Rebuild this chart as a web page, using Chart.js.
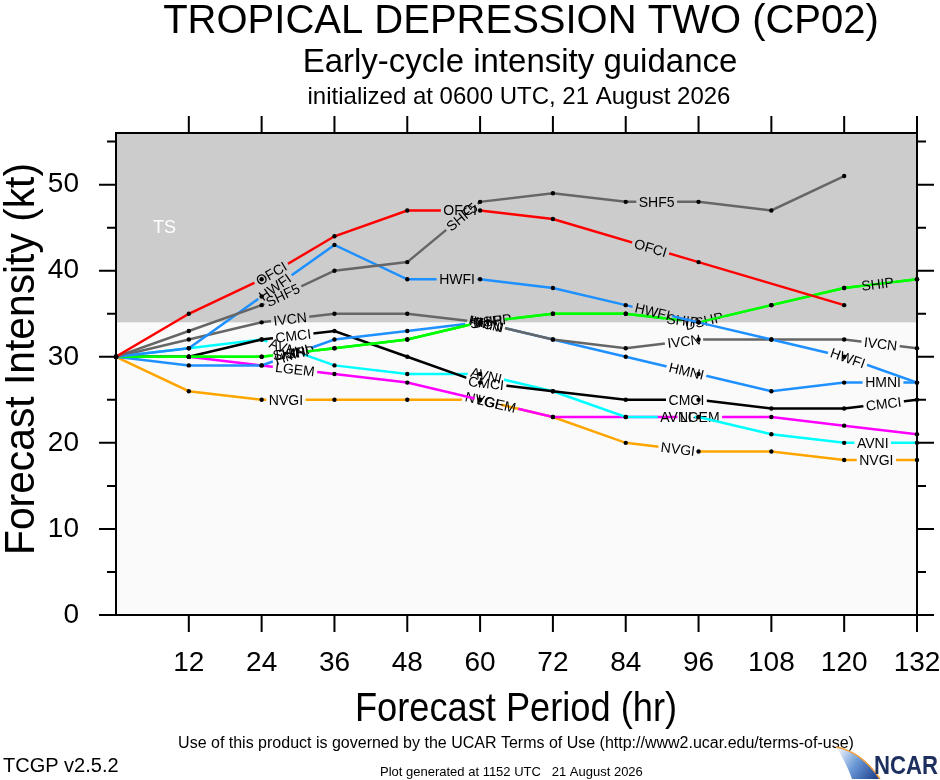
<!DOCTYPE html>
<html>
<head>
<meta charset="utf-8">
<title>CP02 early-cycle intensity guidance</title>
<script src="https://cdn.jsdelivr.net/npm/chart.js@4.4.1/dist/chart.umd.min.js"></script>
<style>
  html, body { margin: 0; padding: 0; background: #fff; }
  canvas { display: block; }
</style>
</head>
<body>
<canvas id="chart" width="940" height="780"></canvas>
<script>
// forecast hours and intensities (kt), null = no forecast at that hour
const hours = [0, 12, 24, 36, 48, 60, 72, 84, 96, 108, 120, 132];
const xTicks = [12, 24, 36, 48, 60, 72, 84, 96, 108, 120, 132];
const yTicks = [0, 10, 20, 30, 40, 50];

const ofcl = [30, 35, 39, 44, 47, 47, 46, null, 41, null, 36, null];
const hwfi = [30, 31, 37, 43, 39, 39, 38, 36, 34, 32, 30, 27];
const hmni = [30, 29, 29, 32, 33, 34, 32, 30, 28, 26, 27, 27];
const shf5 = [30, 33, 36, 40, 41, 48, 49, 48, 48, 47, 51, null];
const ivcn = [30, 32, 34, 35, 35, 34, 32, 31, 32, 32, 32, 31];
const ship = [30, 30, 30, 31, 32, 34, 35, 35, 34, 36, 38, 39];
const dshp = [30, 30, 30, 31, 32, 34, 35, 35, 34, 36, 38, 39];
const cmci = [30, 30, 32, 33, 30, 27, 26, 25, 25, 24, 24, 25];
const avni = [30, 31, 32, 29, 28, 28, 26, 23, 23, 21, 20, 20];
const lgem = [30, 30, 29, 28, 27, 25, 23, 23, 23, 23, 22, 21];
const nvgi = [30, 26, 25, 25, 25, 25, 23, 20, 19, 19, 18, 18];

const tsThreshold = 34;

// name, values, colour, hours where the inline label sits
const models = [
  { name: "OFCI", values: ofcl, color: "#ff0000", labels: [25.6, 56.7, 88.1] },
  { name: "SHF5", values: shf5, color: "#666666", labels: [27.5, 57, 89.1] },
  { name: "HWFI", values: hwfi, color: "#1e90ff", labels: [26.2, 56.2, 88.4, 120.6] },
  { name: "IVCN", values: ivcn, color: "#666666", labels: [28.7, 61, 93.6, 126] },
  { name: "SHIP", values: ship, color: "#00ff00", labels: [28.5, 61, 93.4, 125.5] },
  { name: "DSHP", values: dshp, color: "#00ff00", labels: [29.5, 62, 96.9] },
  { name: "HMNI", values: hmni, color: "#1e90ff", labels: [29, 61, 94, 126.4] },
  { name: "CMCI", values: cmci, color: "#000000", labels: [29.2, 61, 94, 126.5] },
  { name: "AVNI", values: avni, color: "#00ffff", labels: [27.8, 61, 92.3, 124.7] },
  { name: "LGEM", values: lgem, color: "#ff00ff", labels: [29.5, 62.7, 96.2] },
  { name: "NVGI", values: nvgi, color: "#ffa500", labels: [28, 60.3, 92.6, 125.3] },
];

const FONT = "'Liberation Sans', Arial, Helvetica, sans-serif";
const LABEL_FONT = "14px " + FONT;

function toPoints(values) {
  return hours.map((h, i) => ({ x: h, y: values[i] }));
}

const lineSets = models.map((m) => ({
  label: m.name,
  data: toPoints(m.values),
  borderColor: m.color,
  borderWidth: 2.5,
  pointRadius: 0,
  spanGaps: true,
  tension: 0,
  order: 1,
  inlineLabels: m.labels,
}));

const markerSets = models.map((m) => ({
  label: m.name + " pts",
  data: toPoints(m.values),
  showLine: false,
  pointRadius: 2.2,
  pointBackgroundColor: "#000",
  pointBorderWidth: 0,
  clip: false,
  order: 0,
}));

// where along a series (in pixels) the label for hour h goes, and the slope there
function labelPlace(chart, values, h) {
  const xs = chart.scales.x, ys = chart.scales.y;
  const idx = hours.map((v, i) => i).filter((i) => values[i] !== null);
  for (let k = 0; k < idx.length - 1; k++) {
    const a = idx[k], b = idx[k + 1];
    if (h >= hours[a] && h <= hours[b]) {
      const x0 = xs.getPixelForValue(hours[a]), y0 = ys.getPixelForValue(values[a]);
      const x1 = xs.getPixelForValue(hours[b]), y1 = ys.getPixelForValue(values[b]);
      const t = (h - hours[a]) / (hours[b] - hours[a]);
      return { x: x0 + (x1 - x0) * t, y: y0 + (y1 - y0) * t, angle: Math.atan2(y1 - y0, x1 - x0) };
    }
  }
  return null;
}

function labelBoxes(chart, ds) {
  const ctx = chart.ctx;
  ctx.font = LABEL_FONT;
  const w = ctx.measureText(ds.label).width;
  const values = ds.data.map((p) => p.y);
  return ds.inlineLabels
    .map((h) => labelPlace(chart, values, h))
    .filter(Boolean)
    .map((p) => ({ ...p, w: w + 5, h: 14 }));
}

const inlineLabels = {
  id: "inlineLabels",
  beforeDatasetDraw(chart, args) {
    const ds = chart.data.datasets[args.index];
    if (!ds.inlineLabels) return;
    const ctx = chart.ctx;
    ctx.save();
    ctx.beginPath();
    ctx.rect(0, 0, chart.width, chart.height);
    labelBoxes(chart, ds).forEach((b) => {
      const c = Math.cos(b.angle), s = Math.sin(b.angle);
      const pts = [[-b.w / 2, -b.h / 2], [b.w / 2, -b.h / 2], [b.w / 2, b.h / 2], [-b.w / 2, b.h / 2]];
      pts.forEach(([u, v], i) => {
        const px = b.x + u * c - v * s, py = b.y + u * s + v * c;
        if (i === 0) ctx.moveTo(px, py); else ctx.lineTo(px, py);
      });
      ctx.closePath();
    });
    ctx.clip("evenodd");
  },
  afterDatasetDraw(chart, args) {
    const ds = chart.data.datasets[args.index];
    if (!ds.inlineLabels) return;
    const ctx = chart.ctx;
    ctx.restore();
    ctx.save();
    ctx.font = LABEL_FONT;
    ctx.fillStyle = "#000";
    ctx.textAlign = "center";
    ctx.textBaseline = "middle";
    labelBoxes(chart, ds).forEach((b) => {
      ctx.save();
      ctx.translate(b.x, b.y);
      ctx.rotate(b.angle);
      ctx.fillText(ds.label, 0, 1);
      ctx.restore();
    });
    ctx.restore();
  },
};

const plotFrame = {
  id: "plotFrame",
  beforeDatasetsDraw(chart) {
    const { ctx, chartArea: a, scales } = chart;
    const yTs = scales.y.getPixelForValue(tsThreshold);
    ctx.save();
    ctx.fillStyle = "#fafafa";
    ctx.fillRect(a.left, yTs, a.right - a.left, a.bottom - yTs);
    ctx.fillStyle = "#cccccc";
    ctx.fillRect(a.left, a.top, a.right - a.left, yTs - a.top);
    ctx.fillStyle = "#fff";
    ctx.font = "18px " + FONT;
    ctx.textAlign = "center";
    ctx.textBaseline = "middle";
    ctx.fillText("TS", scales.x.getPixelForValue(8), scales.y.getPixelForValue(45));
    ctx.restore();
  },
  afterDraw(chart) {
    const { ctx, chartArea: a, scales } = chart;
    ctx.save();
    ctx.strokeStyle = "#000";
    ctx.lineWidth = 2;
    ctx.beginPath();
    // y ticks both sides, every 5 kt
    for (let v = 0; v <= 55; v += 5) {
      const y = scales.y.getPixelForValue(v);
      const len = v % 10 === 0 ? 17 : 9;
      ctx.moveTo(a.left - len, y); ctx.lineTo(a.left, y);
      ctx.moveTo(a.right, y); ctx.lineTo(a.right + len, y);
    }
    xTicks.forEach((h) => {
      const x = scales.x.getPixelForValue(h);
      ctx.moveTo(x, a.bottom); ctx.lineTo(x, a.bottom + 17);
      ctx.moveTo(x, a.top); ctx.lineTo(x, a.top - 17);
    });
    ctx.stroke();
    ctx.strokeRect(a.left, a.top, a.right - a.left, a.bottom - a.top);

    // titles and footer
    ctx.fillStyle = "#000";
    ctx.textAlign = "center";
    ctx.textBaseline = "alphabetic";
    ctx.font = "40px " + FONT;
    ctx.fillText("TROPICAL DEPRESSION TWO (CP02)", 521, 33, 717);
    ctx.font = "33px " + FONT;
    ctx.fillText("Early-cycle intensity guidance", 520, 72, 443);
    ctx.font = "24px " + FONT;
    ctx.fillText("initialized at 0600 UTC, 21 August 2026", 519, 104, 428);
    ctx.font = "40px " + FONT;
    ctx.fillText("Forecast Period (hr)", 516, 721, 322);
    ctx.save();
    ctx.translate(34, 359);
    ctx.rotate(-Math.PI / 2);
    ctx.font = "43px " + FONT;
    ctx.fillText("Forecast Intensity (kt)", 0, 0, 392);
    ctx.restore();
    ctx.font = "16px " + FONT;
    ctx.fillText("Use of this product is governed by the UCAR Terms of Use (http://www2.ucar.edu/terms-of-use)", 516, 748, 683);
    ctx.textAlign = "left";
    ctx.font = "20px " + FONT;
    ctx.fillText("TCGP v2.5.2", 3, 772, 116);
    ctx.font = "13px " + FONT;
    ctx.fillText("Plot generated at 1152 UTC   21 August 2026", 380, 776, 273);

    // NCAR logo
    const g = ctx.createLinearGradient(838, 750, 878, 778);
    g.addColorStop(0, "#eef4fb");
    g.addColorStop(0.45, "#6c9ad6");
    g.addColorStop(1, "#1b3f8c");
    ctx.fillStyle = g;
    ctx.beginPath();
    ctx.moveTo(836, 747);
    ctx.quadraticCurveTo(862, 752, 880, 779);
    ctx.lineTo(852, 779);
    ctx.quadraticCurveTo(846, 762, 836, 747);
    ctx.fill();
    ctx.strokeStyle = "#f0a040";
    ctx.lineWidth = 1.5;
    ctx.beginPath();
    ctx.moveTo(836, 747);
    ctx.quadraticCurveTo(862, 752, 880, 779);
    ctx.stroke();
    ctx.fillStyle = "#1d2f5e";
    ctx.font = "bold 26px " + FONT;
    ctx.fillText("NCAR", 874, 774, 64);
    ctx.restore();
  },
};

new Chart(document.getElementById("chart"), {
  type: "line",
  data: { datasets: [...markerSets, ...lineSets] },
  options: {
    responsive: false,
    animation: false,
    devicePixelRatio: 1,
    layout: { padding: { top: 133, right: 23, left: 0, bottom: 0 } },
    plugins: { legend: { display: false }, tooltip: { enabled: false }, title: { display: false } },
    scales: {
      x: {
        type: "linear",
        min: 0,
        max: 132,
        afterBuildTicks: (s) => { s.ticks = xTicks.map((v) => ({ value: v })); },
        afterFit: (s) => { s.height = 165; s.paddingLeft = 0; s.paddingRight = 0; },
        grid: { display: false, drawTicks: false },
        border: { display: false },
        ticks: { autoSkip: false, maxRotation: 0, padding: 31, color: "#000", font: { family: FONT, size: 28 } },
      },
      y: {
        min: 0,
        max: 56,
        afterBuildTicks: (s) => { s.ticks = yTicks.map((v) => ({ value: v })); },
        afterFit: (s) => { s.width = 116; s.paddingTop = 0; s.paddingBottom = 0; },
        grid: { display: false, drawTicks: false },
        border: { display: false },
        ticks: { padding: 37, color: "#000", font: { family: FONT, size: 28 } },
      },
    },
  },
  plugins: [plotFrame, inlineLabels],
});
</script>
</body>
</html>
